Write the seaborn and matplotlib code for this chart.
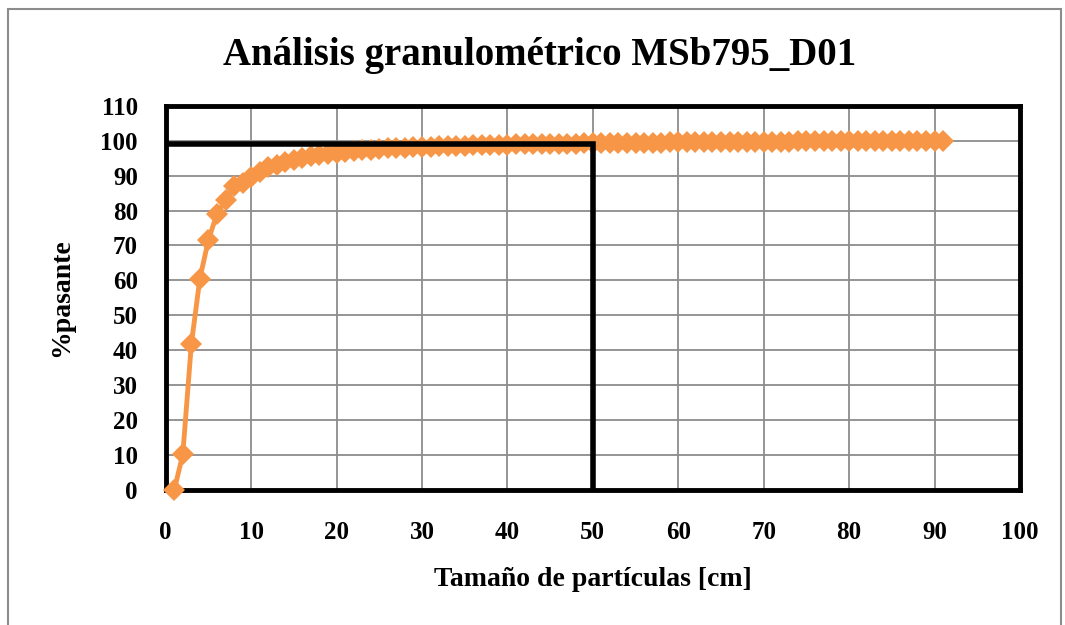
import matplotlib
matplotlib.use("Agg")
import matplotlib.pyplot as plt
import seaborn as sns
import pandas as pd
from matplotlib.patches import Rectangle

# ---- data ----
size_cm = list(range(1, 92))
pct_passing = [
    0.0, 10.2, 41.7, 60.5, 71.6, 79.0, 83.0, 86.9, 88.0, 89.5,
    91.0, 92.4, 93.1, 94.0, 94.6, 95.0, 95.5, 95.9, 96.2, 96.5,
    96.8, 97.0, 97.2, 97.4, 97.6, 97.75, 97.9, 98.0, 98.1, 98.2,
    98.3, 98.4, 98.45, 98.5, 98.6, 98.65, 98.7, 98.75, 98.8, 98.85,
    98.9, 98.95, 99.0, 99.0, 99.05, 99.1, 99.1, 99.15, 99.2, 99.2,
    99.25, 99.28, 99.3, 99.33, 99.36, 99.39, 99.42, 99.45, 99.47, 99.5,
    99.52, 99.54, 99.56, 99.58, 99.6, 99.62, 99.64, 99.66, 99.68, 99.7,
    99.71, 99.73, 99.74, 99.76, 99.77, 99.79, 99.8, 99.82, 99.83, 99.85,
    99.86, 99.87, 99.88, 99.9, 99.91, 99.92, 99.94, 99.95, 99.97, 99.98, 100.0,
]
ref_x = [0, 50, 50]
ref_y = [99, 99, 0]
x_ticks = list(range(0, 101, 10))
y_ticks = list(range(0, 111, 10))
title = "Análisis granulométrico MSb795_D01"
xlabel = "Tamaño de partículas [cm]"
ylabel = "%pasante"

df = pd.DataFrame({"size": size_cm, "pct": pct_passing})

sns.set_style("white")
plt.rcParams["font.family"] = ["Liberation Serif", "DejaVu Serif"]
plt.rcParams["text.color"] = "black"
plt.rcParams["axes.labelcolor"] = "black"
plt.rcParams["xtick.labelcolor"] = "black"
plt.rcParams["ytick.labelcolor"] = "black"

W, H = 1065, 625
fig = plt.figure(figsize=(W / 100, H / 100), dpi=100)
ax = fig.add_axes([165.7 / W, 1 - 490 / H, (1020 - 165.7) / W, (490 - 105.7) / H])

ax.set_xlim(0, 100)
ax.set_ylim(0, 110)
ax.set_xticks(x_ticks)
ax.set_yticks(y_ticks)
ax.grid(True, color="#8c8c8c", linewidth=1.3)
ax.set_axisbelow(True)

sns.lineplot(data=df, x="size", y="pct", ax=ax, color="#F79646", linewidth=3.5,
             marker="D", markersize=11, markeredgewidth=0, clip_on=False, zorder=3)
ax.plot(ref_x, ref_y, color="black", linewidth=4, solid_joinstyle="miter", zorder=4)

for s in ax.spines.values():
    s.set_color("black")
    s.set_linewidth(3.5)

ax.tick_params(axis="both", which="both", direction="out", length=6, width=1.2,
               color="#8c8c8c", labelsize=18, labelcolor="black")
ax.tick_params(axis="x", pad=16)
ax.tick_params(axis="y", pad=14)
for lab in ax.get_xticklabels() + ax.get_yticklabels():
    lab.set_fontweight("bold")

ax.set_xlabel(xlabel, fontsize=20, fontweight="bold", color="black")
ax.set_ylabel(ylabel, fontsize=20, fontweight="bold", color="black")
ax.xaxis.set_label_coords(0.5, (490 - 580) / 384.3)
ax.yaxis.set_label_coords((62 - 165.7) / 854.3, 0.5)
ax.xaxis.label.set_va("center")
ax.yaxis.label.set_va("center")

fig.text(540 / W, 1 - 55 / H, title, ha="center", va="center",
         fontsize=28, fontweight="bold", color="black")

# outer chart border
fig.patches.append(Rectangle((8 / W, -0.05), (1061 - 8) / W, 1.05 - 9 / H,
                             transform=fig.transFigure, fill=False,
                             edgecolor="#8c8c8c", linewidth=1.5))

fig.savefig("out.png", dpi=100)
